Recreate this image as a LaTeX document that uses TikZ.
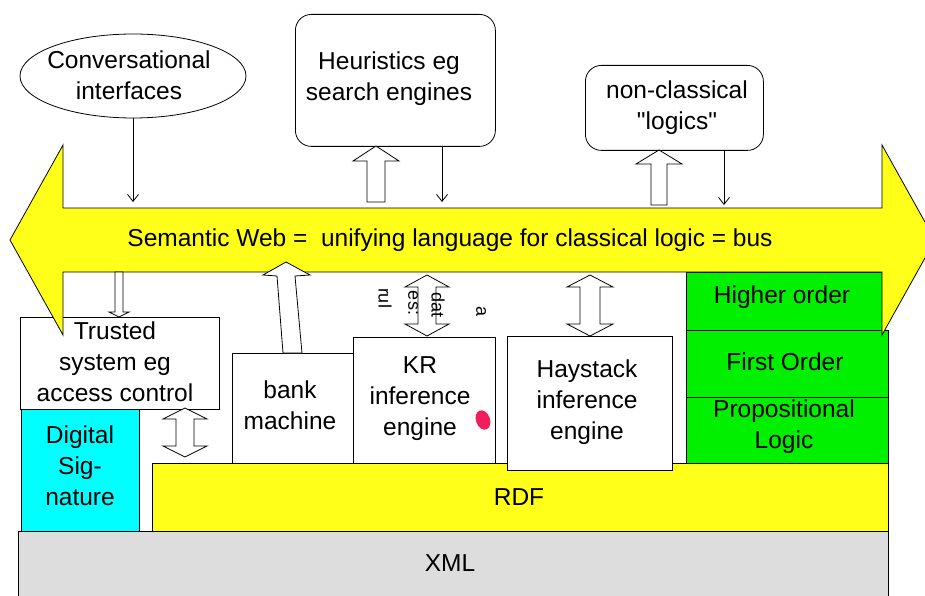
\documentclass[tikz,border=0pt]{standalone}
\usepackage{fontspec}
\setmainfont{Liberation Sans}[Ligatures=TeXOff]
\usetikzlibrary{arrows.meta,shapes.geometric}
\definecolor{busyellow}{RGB}{255,255,26}
\definecolor{sigcyan}{RGB}{0,255,255}
\definecolor{logicgreen}{RGB}{0,240,0}
\definecolor{xmlgray}{RGB}{221,221,221}
\definecolor{dotred}{RGB}{240,30,90}
\newcommand{\blkup}[6]{% cx ybot ytop shaft head headlen
  \draw[blk] ({#1-#4},#2) -- ({#1-#4},{#3+#6}) -- ({#1-#5},{#3+#6}) -- (#1,#3) -- ({#1+#5},{#3+#6}) -- ({#1+#4},{#3+#6}) -- ({#1+#4},#2) -- cycle;}
\newcommand{\blkud}[6]{% cx ytop ybot shaft head headlen
  \draw[blk] (#1,#2) -- ({#1+#5},{#2+#6}) -- ({#1+#4},{#2+#6}) -- ({#1+#4},{#3-#6}) -- ({#1+#5},{#3-#6}) -- (#1,#3) -- ({#1-#5},{#3-#6}) -- ({#1-#4},{#3-#6}) -- ({#1-#4},{#2+#6}) -- ({#1-#5},{#2+#6}) -- cycle;}
\begin{document}
\begin{tikzpicture}[x=1pt,y=-1pt,
  line width=0.8pt,
  box/.style={draw=black, rectangle, inner sep=0pt, align=center},
  rbox/.style={box, rounded corners=16pt},
  lbl/.style={inner sep=0pt, align=center, font=\fontsize{24.5}{31}\selectfont},
  blk/.style={draw=black, fill=white, line width=0.8pt},
  thinarr/.style={draw=black, line width=0.8pt, -{Straight Barb[length=7pt,width=11pt]}},
  rot/.style={inner sep=0pt, rotate=-90, font=\fontsize{18}{20}\selectfont}]
\useasboundingbox (0,0) rectangle (925,596);
\clip (0,0) rectangle (925,596);
\fill[white] (0,0) rectangle (925,596);
% bottom layers
\node[box, fill=xmlgray, minimum width=870pt, minimum height=75pt, anchor=north west] (xml) at (18,531) {};
\node[lbl] (xmlt) at (450,563) {XML};
\node[box, fill=busyellow, minimum width=736pt, minimum height=68pt, anchor=north west] (rdf) at (152,463) {};
\node[lbl] (rdft) at (519,497) {RDF};
\node[box, fill=sigcyan, minimum width=118pt, minimum height=122pt, anchor=north west] (sig) at (21,409) {};
\node[lbl] (sigt) at (80,466) {Digital\\Sig-\\nature};
\node[box, fill=white, minimum width=199pt, minimum height=92pt, anchor=north west] (trust) at (20,317) {};
\node[lbl] (trustt) at (115,362) {Trusted\\system eg\\access control};
\node[box, fill=white, minimum width=121pt, minimum height=110pt, anchor=north west] (bank) at (232,353) {};
\node[lbl] (bankt) at (290,405) {bank\\machine};
\node[box, fill=white, minimum width=142pt, minimum height=126pt, anchor=north west] (kr) at (353,337) {};
\node[lbl] (krt) at (420,399) {KR\\inference\\engine};
\node[box, fill=white, minimum width=165pt, minimum height=134pt, anchor=north west] (hay) at (507,336) {};
\node[lbl] (hayt) at (587,402) {Haystack\\inference\\engine};
\node[box, fill=logicgreen, minimum width=196pt, minimum height=58pt, anchor=north west] (hi) at (686,272) {};
\node[lbl] (hit) at (782,297) {Higher order};
\node[box, fill=logicgreen, minimum width=202pt, minimum height=67pt, anchor=north west] (fo) at (686,330) {};
\node[lbl] (fot) at (785,362) {First Order};
\node[box, fill=logicgreen, minimum width=202pt, minimum height=66pt, anchor=north west] (pl) at (686,397) {};
\node[lbl] (plt) at (784,427) {Propositional\\Logic};
% bus
\draw[fill=busyellow, line width=0.8pt] (10,240) -- (63,145) -- (63,208) -- (882,208) -- (882,145) -- (935,240) -- (882,335) -- (882,272) -- (63,272) -- (63,335) -- cycle;
\node[lbl] (bus) at (450,240) {Semantic Web =\ \ unifying language for classical logic = bus};
% top boxes
\node[draw=black, ellipse, fill=white, minimum width=226pt, minimum height=84pt, inner sep=0pt] (conv) at (133,76) {};
\node[lbl] (convt) at (129,75) {Conversational\\interfaces};
\node[rbox, fill=white, minimum width=200pt, minimum height=132pt, anchor=north west] (heur) at (295,14) {};
\node[lbl] (heurt) at (389,79) {Heuristics eg\\search engines};
\node[rbox, fill=white, minimum width=178pt, minimum height=85pt, anchor=north west] (ncl) at (585,65) {};
\node[lbl] (nclt) at (677,108) {non-classical\\"logics"};
% thin arrows
\coordinate (bustop) at (0,202);
\coordinate (ha) at (442,202);
\coordinate (na) at (724,205);
\draw[thinarr] (conv.south) -- (conv.south |- bustop);
\draw[thinarr] (ha |- heur.south) -- (ha);
\draw[thinarr] (na |- ncl.south) -- (na);
% block arrows
\blkup{376}{202}{146}{9}{23}{15}
\blkup{659}{205}{150}{8}{23}{14}
\blkup{119}{272}{317}{4}{10}{-5}
\draw[blk] (283,353) -- (277,276) -- (263,275) -- (286,262) -- (310,275) -- (295,276) -- (302,353) -- cycle;
\blkud{185}{408}{457}{9}{22}{11}
\blkud{590}{275}{336}{10}{23}{12}
\blkud{427}{275}{336}{9}{22}{12}
% rotated labels
\node[rot] (r1) at (385,298) {rul};
\node[rot] (r2) at (413,303) {es:};
\node[rot] (r3) at (438,305) {dat};
\node[rot] (r4) at (481,312) {a};
% red dot
\fill[dotred, rotate around={20:(483,420)}] (483,420) ellipse [x radius=7pt, y radius=10pt];
\end{tikzpicture}
\end{document}
